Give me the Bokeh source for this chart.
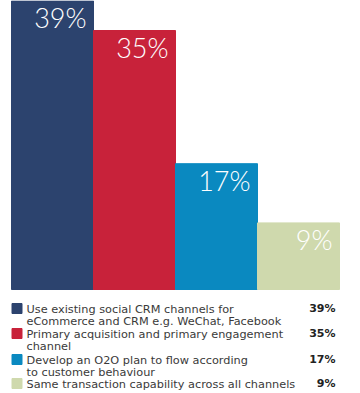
from bokeh.plotting import figure
from bokeh.models import Range1d, ColumnDataSource
from bokeh.core.properties import value
from bokeh.embed import file_html
from bokeh.resources import INLINE

# ---- data ----
categories = [
    "Use existing social CRM channels for\neCommerce and CRM e.g. WeChat, Facebook",
    "Primary acquisition and primary engagement\nchannel",
    "Develop an O2O plan to flow according\nto customer behaviour",
    "Same transaction capability across all channels",
]
values = [39, 35, 17, 9]
value_labels = ["39%", "35%", "17%", "9%"]
colors = ["#2c436e", "#c8223a", "#0a89c0", "#cfd9ad"]

W, H = 360, 393
PX_PER_UNIT = 7.4
BAR_BOTTOM_PX = 289
BAR_W_PX = 82
BAR_LEFT_PX = 11

p = figure(width=W, height=H, output_backend="svg", toolbar_location=None,
           x_range=Range1d(0, W), y_range=Range1d(H, 0),
           min_border=0, outline_line_color=None)
p.axis.visible = False
p.grid.visible = False
p.background_fill_color = "white"
p.border_fill_color = "white"

# bar ranges
y_end = BAR_BOTTOM_PX / PX_PER_UNIT
y_start = y_end - H / PX_PER_UNIT
x_start = -0.5 - BAR_LEFT_PX / BAR_W_PX
x_end = x_start + W / BAR_W_PX
p.extra_y_ranges = {"by": Range1d(y_start, y_end)}
p.extra_x_ranges = {"bx": Range1d(x_start, x_end)}

idx = list(range(len(values)))
src = ColumnDataSource(dict(x=idx, top=values, color=colors, lab=value_labels,
                            xr=[i + 0.5 for i in idx]))
p.vbar(x="x", top="top", bottom=0, width=1.0, color="color", source=src,
       x_range_name="bx", y_range_name="by")
p.text(x="xr", y="top", text="lab", source=src, x_range_name="bx", y_range_name="by",
       text_color="white", text_font=value("'DejaVu Sans ExtraLight', 'Lato Light', 'DejaVu Sans'"),
       text_font_size="27px",
       text_align="right", text_baseline="alphabetic", x_offset=-7, y_offset=17)

# legend
row_y = [308, 333, 359, 383]  # first-line centers
leg = ColumnDataSource(dict(
    mx=[16.5] * 4, my=row_y, color=colors,
    tx=[26] * 4, ty=[y - 6 for y in row_y], txt=categories,
    vx=[335] * 4, vlab=value_labels,
))
p.scatter(x="mx", y="my", marker="square", size=10, color="color", source=leg)
p.text(x="tx", y="ty", text="txt", source=leg, text_color="#3a3a3a",
       text_font=value("DejaVu Sans"), text_font_size="11.3px",
       text_baseline="top", text_line_height=0.95)
p.text(x="vx", y="my", text="vlab", source=leg, text_color="#222222",
       text_font=value("DejaVu Sans"), text_font_size="11px", text_font_style="bold",
       text_align="right", text_baseline="middle")

open("out.html", "w").write(file_html(p, INLINE))
